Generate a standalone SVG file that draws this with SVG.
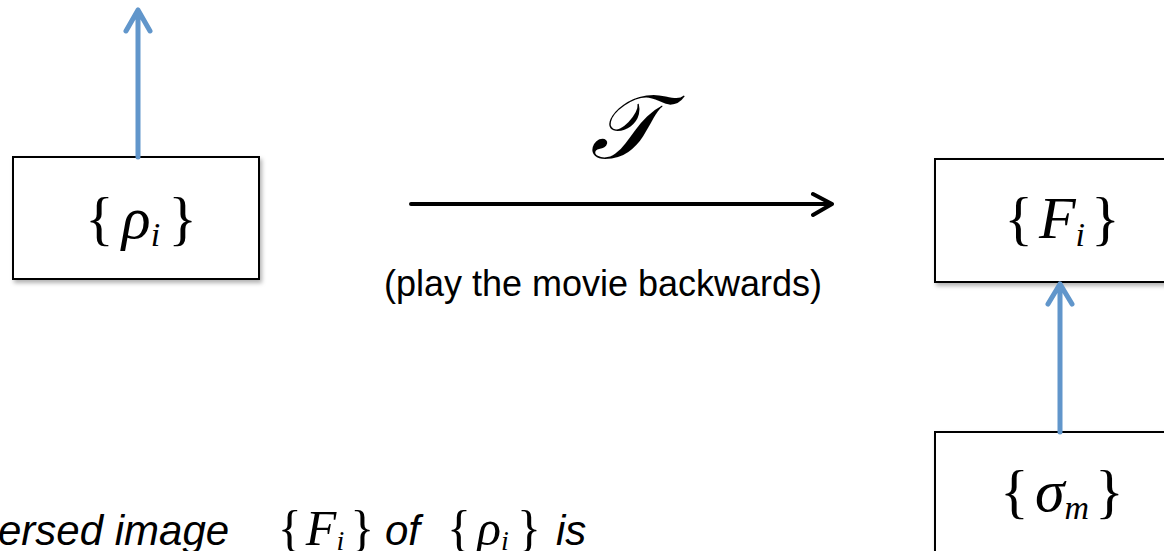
<svg xmlns="http://www.w3.org/2000/svg" width="1164" height="551" viewBox="0 0 1164 551">
<defs>
<style>
.box{fill:#fff;stroke:#000;stroke-width:2;filter:url(#sh)}
.m{font-family:"Liberation Serif","Times New Roman",serif;font-size:60px;fill:#000}
.it{font-style:italic}
.sub{font-style:italic;font-size:34px}
.lbl{font-family:"Liberation Sans",Arial,sans-serif;font-size:36px;fill:#000}
.bt{font-family:"Liberation Sans",Arial,sans-serif;font-size:42px;font-style:italic;fill:#000}
.bm{font-family:"Liberation Serif","Times New Roman",serif;font-size:50px;fill:#000}
.bsub{font-style:italic;font-size:28px}
.blue{stroke:#6196CB;stroke-width:5;fill:none;stroke-linecap:round;stroke-linejoin:round}
.blk{stroke:#000;stroke-width:4;fill:none;stroke-linecap:round;stroke-linejoin:round}
</style>
<filter id="sh" x="-10%" y="-10%" width="130%" height="130%">
<feDropShadow dx="2" dy="3" stdDeviation="2" flood-color="#000" flood-opacity="0.3"/>
</filter>
</defs>
<rect width="1164" height="551" fill="#fff"/>
<g id="node-rho">
<rect class="box" x="13" y="157" width="246" height="122"/>
<text class="m" x="141" y="238" text-anchor="middle">{<tspan class="it" dx="8">ρ</tspan><tspan class="sub" dy="8">i</tspan><tspan dx="8" dy="-8">}</tspan></text>
</g>
<g id="node-F">
<rect class="box" x="935" y="159" width="260" height="123"/>
<text class="m" x="1062" y="238" text-anchor="middle">{<tspan class="it" dx="6">F</tspan><tspan class="sub" dy="8">i</tspan><tspan dx="6" dy="-8">}</tspan></text>
</g>
<g id="node-sigma">
<rect class="box" x="935" y="432" width="260" height="140"/>
<text class="m" x="1062" y="511" text-anchor="middle">{<tspan class="it" dx="6">σ</tspan><tspan class="sub" dy="8">m</tspan><tspan dx="6" dy="-8">}</tspan></text>
</g>
<g id="connectors">
<path class="blue" d="M138 157 V10 M126 31 L138 10 L150 31"/>
<path class="blue" d="M1060 432 V284 M1048 304 L1060 284 L1072 304"/>
<path class="blk" d="M411 204 H832 M813 194 L832 204 L813 215"/>
</g>
<g id="labels">
<text x="624" y="158" text-anchor="middle" font-family="'DejaVu Serif','Liberation Serif',serif" font-size="90" font-style="italic">𝒯</text>
<text class="lbl" x="603" y="296" text-anchor="middle">(play the movie backwards)</text>
<text class="bt" x="-2" y="545">ersed image</text>
<text class="bm" x="326" y="545" text-anchor="middle">{<tspan class="it" dx="4">F</tspan><tspan class="bsub" dy="5">i</tspan><tspan dx="6" dy="-5">}</tspan></text>
<text class="bt" x="385" y="545">of</text>
<text class="bm" x="494" y="545" text-anchor="middle">{<tspan class="it" dx="6">ρ</tspan><tspan class="bsub" dy="5">i</tspan><tspan dx="8" dy="-5">}</tspan></text>
<text class="bt" x="556" y="545">is</text>
</g>
</svg>
